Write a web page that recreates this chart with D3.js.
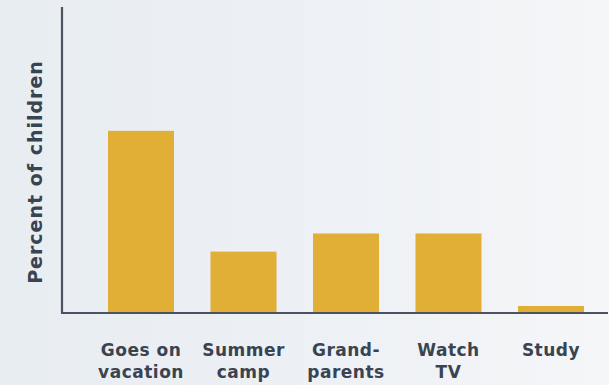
<!DOCTYPE html>
<html>
<head>
<meta charset="utf-8">
<script src="https://cdn.jsdelivr.net/npm/d3@7"></script>
<style>
  html, body { margin: 0; padding: 0; }
  body { width: 609px; height: 385px; overflow: hidden; }
  svg { display: block; }
</style>
</head>
<body>
<svg id="chart" width="609" height="385"></svg>
<script>
// Activities children do over the summer (percent of children)
const categories = [
  ["Goes on", "vacation"],
  ["Summer", "camp"],
  ["Grand-", "parents"],
  ["Watch", "TV"],
  ["Study"]
];
const values = [60, 20, 26, 26, 2];
const yLabel = "Percent of children";

const W = 609, H = 385;
const margin = { top: 8, right: 2, bottom: 72, left: 62 };
const svg = d3.select("#chart");

// soft background wash, bluish on the left fading lighter to the right
const defs = svg.append("defs");
const grad = defs.append("linearGradient").attr("id", "bg").attr("x1", "0").attr("x2", "1").attr("y1", "0").attr("y2", "0");
grad.append("stop").attr("offset", "0%").attr("stop-color", "#e8edf2");
grad.append("stop").attr("offset", "60%").attr("stop-color", "#eef1f5");
grad.append("stop").attr("offset", "100%").attr("stop-color", "#f5f6f8");
svg.append("rect").attr("width", W).attr("height", H).attr("fill", "url(#bg)");

const x = d3.scaleBand()
  .domain(d3.range(categories.length))
  .range([87.5, 604.5])
  .paddingInner(0.356)
  .paddingOuter(0.2);

const y = d3.scaleLinear()
  .domain([0, 100])
  .range([H - margin.bottom - 1, margin.top + 2]);

const baseY = y(0);

svg.append("g")
  .selectAll("rect")
  .data(values)
  .join("rect")
  .attr("x", (d, i) => x(i))
  .attr("width", x.bandwidth())
  .attr("y", d => y(d))
  .attr("height", d => baseY - y(d))
  .attr("fill", "#e1af36");

// axes: plain lines, no ticks
const axisColor = "#4b5360";
svg.append("line")
  .attr("x1", margin.left).attr("x2", margin.left)
  .attr("y1", margin.top - 1).attr("y2", baseY + 1)
  .attr("stroke", axisColor).attr("stroke-width", 2.2);
svg.append("line")
  .attr("x1", margin.left - 1).attr("x2", W - 1)
  .attr("y1", baseY + 1).attr("y2", baseY + 1)
  .attr("stroke", axisColor).attr("stroke-width", 2.2);

// category labels
const font = "'DejaVu Sans', sans-serif";
const labels = svg.append("g");
categories.forEach((lines, i) => {
  const cx = x(i) + x.bandwidth() / 2;
  const t = labels.append("text")
    .attr("x", cx)
    .attr("y", 356)
    .attr("text-anchor", "middle")
    .attr("font-family", font)
    .attr("font-weight", 700)
    .attr("font-size", 17)
    .attr("letter-spacing", 0.5)
    .attr("fill", "#3a4350");
  lines.forEach((ln, k) => {
    t.append("tspan")
      .attr("x", cx)
      .attr("dy", k === 0 ? 0 : 22)
      .text(ln);
  });
});

// y-axis title
svg.append("text")
  .attr("transform", `translate(42, 172) rotate(-90)`)
  .attr("text-anchor", "middle")
  .attr("font-family", font)
  .attr("font-weight", 700)
  .attr("font-size", 19)
  .attr("letter-spacing", 1)
  .attr("fill", "#3a4350")
  .text(yLabel);
</script>
</body>
</html>
